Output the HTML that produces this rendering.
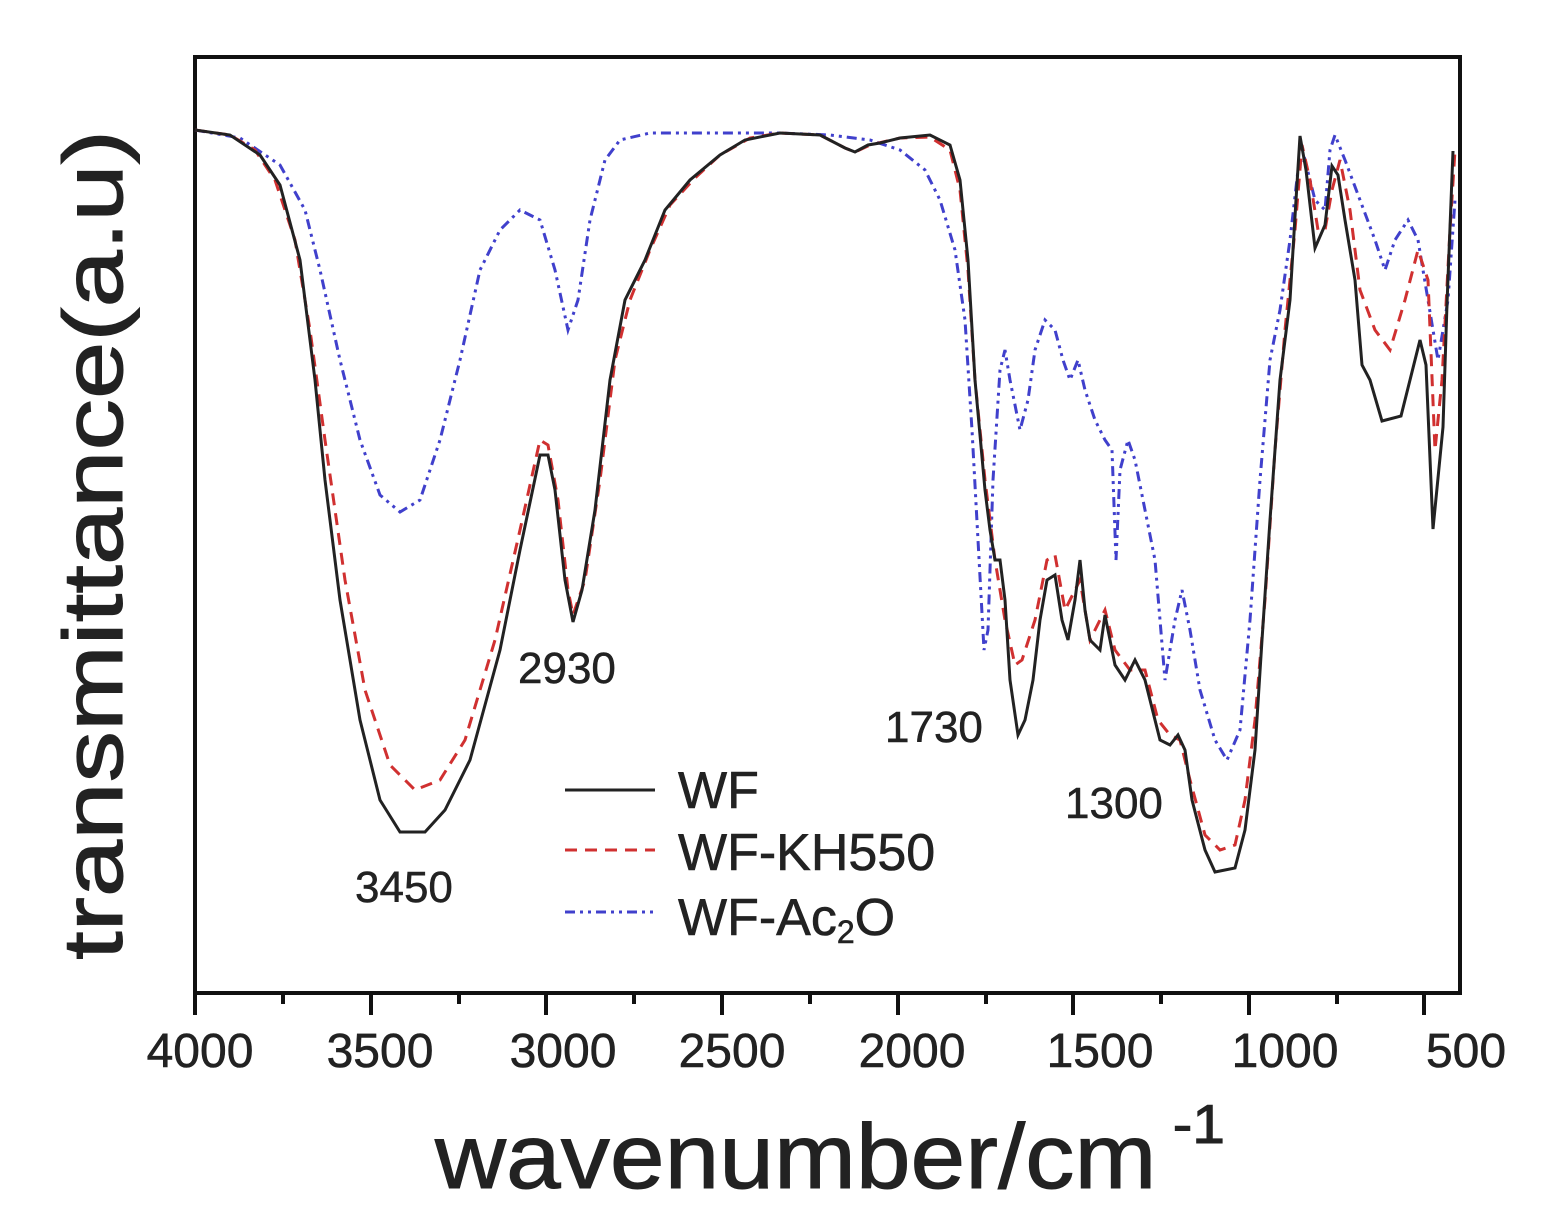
<!DOCTYPE html>
<html><head><meta charset="utf-8"><style>
html,body{margin:0;padding:0;background:#fff;}
svg{display:block;}
text{font-family:"Liberation Sans",sans-serif;fill:#222;}
</style></head><body>
<svg width="1542" height="1227" viewBox="0 0 1542 1227" xmlns="http://www.w3.org/2000/svg">
<rect x="195" y="57" width="1265" height="936" fill="none" stroke="#111" stroke-width="4"/>
<g stroke="#111" stroke-width="4">
<line x1="195" y1="993" x2="195" y2="1015"/><line x1="283" y1="993" x2="283" y2="1004"/>
<line x1="371" y1="993" x2="371" y2="1015"/><line x1="459" y1="993" x2="459" y2="1004"/>
<line x1="546" y1="993" x2="546" y2="1015"/><line x1="634" y1="993" x2="634" y2="1004"/>
<line x1="722" y1="993" x2="722" y2="1015"/><line x1="810" y1="993" x2="810" y2="1004"/>
<line x1="898" y1="993" x2="898" y2="1015"/><line x1="986" y1="993" x2="986" y2="1004"/>
<line x1="1073" y1="993" x2="1073" y2="1015"/><line x1="1161" y1="993" x2="1161" y2="1004"/>
<line x1="1249" y1="993" x2="1249" y2="1015"/><line x1="1337" y1="993" x2="1337" y2="1004"/>
<line x1="1424" y1="993" x2="1424" y2="1015"/>
</g>
<g font-size="48" text-anchor="middle" stroke="#222" stroke-width="0.6">
<text x="200" y="1067">4000</text><text x="380" y="1067">3500</text><text x="563" y="1067">3000</text>
<text x="732" y="1067">2500</text><text x="912" y="1067">2000</text><text x="1100" y="1067">1500</text>
<text x="1285" y="1067">1000</text><text x="1466" y="1067">500</text>
</g>
<text x="830" y="1188" font-size="92" text-anchor="middle" textLength="790" lengthAdjust="spacingAndGlyphs" stroke="#222" stroke-width="1">wavenumber/cm<tspan font-size="55" dy="-45"> -1</tspan></text>
<text transform="translate(122,545) rotate(-90)" font-size="84" text-anchor="middle" textLength="830" lengthAdjust="spacingAndGlyphs" stroke="#222" stroke-width="1">transmittance(a.u)</text>

<polyline fill="none" stroke="#4040cc" stroke-width="3" stroke-dasharray="10,5,3,5,3,5" points="195,130 240,138 280,165 305,210 320,270 340,360 360,440 380,495 400,512 420,500 440,440 460,360 480,270 500,230 520,210 540,220 555,270 568,330 578,300 590,220 605,160 620,140 650,133 780,133 830,135 870,140 900,150 925,170 940,200 955,250 965,320 972,430 978,540 984,650 988,630 993,480 1000,370 1005,350 1010,380 1020,430 1028,400 1035,350 1045,320 1055,330 1063,360 1070,380 1078,360 1085,390 1095,420 1105,440 1112,450 1116,560 1120,470 1128,440 1135,460 1145,510 1155,560 1160,620 1165,680 1175,620 1182,590 1190,630 1200,690 1215,740 1227,760 1240,730 1250,620 1260,480 1270,360 1280,310 1290,240 1298,170 1305,160 1315,200 1325,210 1330,150 1335,135 1345,160 1360,200 1375,240 1385,270 1395,240 1408,220 1418,240 1428,300 1438,360 1448,300 1455,200"/>
<polyline fill="none" stroke="#d03030" stroke-width="3" stroke-dasharray="12,8" points="195,130 230,135 255,150 275,180 295,240 310,330 325,440 345,580 365,690 390,765 415,790 440,780 465,740 495,640 520,530 540,440 548,445 558,500 568,590 573,615 585,580 600,480 615,360 630,300 650,250 670,205 695,178 720,155 750,138 780,133 820,135 845,148 855,152 870,145 900,138 930,137 950,150 960,190 968,270 975,380 985,480 995,560 1005,620 1015,665 1022,660 1035,620 1047,560 1055,555 1065,610 1080,580 1090,640 1105,610 1115,650 1130,670 1145,670 1158,720 1170,735 1180,740 1190,780 1205,835 1220,850 1235,845 1245,800 1255,720 1265,600 1275,450 1285,330 1295,230 1302,145 1310,180 1318,230 1325,230 1332,190 1340,160 1350,210 1360,290 1375,330 1390,350 1405,300 1418,250 1428,280 1435,450 1442,380 1450,230 1455,150"/>
<polyline fill="none" stroke="#222" stroke-width="3" points="195,130 230,135 260,155 280,185 300,260 315,380 325,480 340,600 360,720 380,800 400,832 425,832 445,810 470,760 500,650 520,550 540,455 548,455 555,490 565,580 573,622 582,590 595,510 610,380 625,300 645,260 665,210 690,180 720,155 745,140 780,133 820,135 845,148 855,152 868,145 880,143 900,138 930,135 950,145 960,180 968,260 975,380 985,490 990,530 995,560 1000,560 1005,600 1010,680 1018,735 1025,720 1033,680 1040,620 1047,580 1055,575 1062,620 1068,640 1075,600 1080,560 1085,610 1090,640 1100,650 1105,615 1110,640 1115,665 1125,680 1135,660 1145,680 1155,720 1160,740 1170,745 1178,735 1185,750 1192,800 1205,850 1215,872 1235,868 1245,830 1255,750 1262,640 1270,520 1280,380 1290,300 1296,200 1300,136 1306,170 1315,248 1325,225 1332,166 1338,175 1345,220 1355,280 1362,365 1370,380 1382,421 1401,416 1410,380 1420,340 1426,365 1433,529 1443,427 1447,304 1453,151"/>

<g font-size="44" stroke="#222" stroke-width="0.5">
<text x="518" y="683">2930</text><text x="355" y="902">3450</text>
<text x="885" y="742">1730</text><text x="1065" y="818">1300</text>
</g>
<line x1="565" y1="790" x2="655" y2="790" stroke="#222" stroke-width="3"/>
<line x1="565" y1="850" x2="655" y2="850" stroke="#d03030" stroke-width="3" stroke-dasharray="12,8"/>
<line x1="565" y1="912" x2="655" y2="912" stroke="#4040cc" stroke-width="3" stroke-dasharray="10,5,3,5,3,5"/>
<g font-size="52" stroke="#222" stroke-width="0.6">
<text x="678" y="808">WF</text>
<text x="678" y="870">WF-KH550</text>
<text x="678" y="935">WF-Ac<tspan font-size="32" dy="8">2</tspan><tspan dy="-8">O</tspan></text>
</g>
</svg>
</body></html>
